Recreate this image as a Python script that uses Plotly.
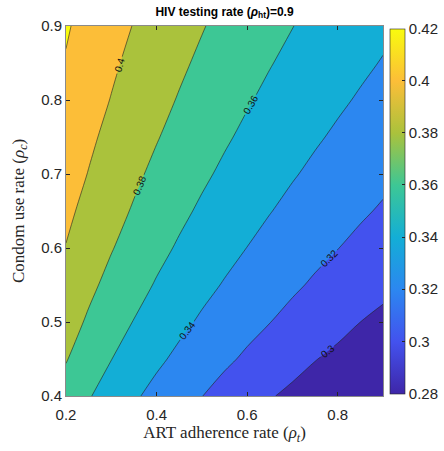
import plotly.graph_objects as go

# ART adherence rate (x) and condom use rate (y) grid
adherence = [0.20, 0.25, 0.30, 0.35, 0.40, 0.45, 0.50, 0.55, 0.60, 0.65,
             0.70, 0.75, 0.80, 0.85, 0.90]
condom = [0.40, 0.45, 0.50, 0.55, 0.60, 0.65, 0.70, 0.75, 0.80, 0.85, 0.90]
# estimated outcome values, rows = condom use rate, cols = ART adherence
rate = [
    [0.3726, 0.3614, 0.3514, 0.3425, 0.3344, 0.3270, 0.3203, 0.3134, 0.3071, 0.3012, 0.2965, 0.2923, 0.2883, 0.2845, 0.2810],
    [0.3810, 0.3699, 0.3603, 0.3514, 0.3434, 0.3361, 0.3294, 0.3232, 0.3172, 0.3113, 0.3057, 0.3005, 0.2965, 0.2927, 0.2892],
    [0.3877, 0.3776, 0.3679, 0.3594, 0.3514, 0.3442, 0.3376, 0.3314, 0.3256, 0.3203, 0.3148, 0.3096, 0.3047, 0.3000, 0.2965],
    [0.3938, 0.3840, 0.3748, 0.3663, 0.3586, 0.3514, 0.3448, 0.3388, 0.3330, 0.3277, 0.3227, 0.3177, 0.3128, 0.3082, 0.3038],
    [0.3994, 0.3895, 0.3810, 0.3726, 0.3649, 0.3580, 0.3514, 0.3454, 0.3398, 0.3344, 0.3294, 0.3247, 0.3203, 0.3157, 0.3113],
    [0.4039, 0.3946, 0.3861, 0.3784, 0.3707, 0.3638, 0.3574, 0.3514, 0.3458, 0.3406, 0.3356, 0.3309, 0.3265, 0.3223, 0.3181],
    [0.4080, 0.3994, 0.3908, 0.3833, 0.3761, 0.3692, 0.3629, 0.3570, 0.3514, 0.3462, 0.3413, 0.3367, 0.3322, 0.3280, 0.3241],
    [0.4118, 0.4033, 0.3952, 0.3877, 0.3810, 0.3742, 0.3679, 0.3621, 0.3566, 0.3514, 0.3465, 0.3419, 0.3376, 0.3334, 0.3294],
    [0.4154, 0.4069, 0.3994, 0.3918, 0.3851, 0.3789, 0.3726, 0.3668, 0.3614, 0.3563, 0.3514, 0.3468, 0.3425, 0.3384, 0.3344],
    [0.4188, 0.4102, 0.4028, 0.3957, 0.3890, 0.3829, 0.3770, 0.3712, 0.3658, 0.3608, 0.3560, 0.3514, 0.3471, 0.3430, 0.3391],
    [0.4219, 0.4134, 0.4060, 0.3994, 0.3926, 0.3865, 0.3810, 0.3753, 0.3699, 0.3649, 0.3603, 0.3557, 0.3514, 0.3473, 0.3434],
]
levels_start, levels_end, levels_step = 0.28, 0.42, 0.02
cbar_ticks = [0.28, 0.30, 0.32, 0.34, 0.36, 0.38, 0.40, 0.42]
x_ticks = [0.2, 0.4, 0.6, 0.8]
y_ticks = [0.4, 0.5, 0.6, 0.7, 0.8, 0.9]

band_colors = ["#3e26a8", "#4352ee", "#2c87f0", "#13aed6", "#3dc795",
               "#aac23c", "#fcbe38", "#f9fb0e"]
n = len(band_colors) - 1
parula = [[i / n, c] for i, c in enumerate(band_colors)]

# plotly contour fill: band above level L uses colorscale at (L + step/2);
# build a colorscale sampled at 0, 1/8, ..., 1
fill_scale = [[0.0, band_colors[0]]]
for k in range(1, 9):
    fill_scale.append([k / 8, band_colors[k - 1]])

fig = go.Figure()

fig.add_trace(go.Heatmap(
    x=adherence, y=condom, z=rate,
    colorscale=parula, zmin=0.28, zmax=0.42,
    showscale=True,
    colorbar=dict(
        x=1.022, xanchor="left", xref="paper", xpad=0, ypad=0,
        y=0.5, yanchor="middle", len=0.986, lenmode="fraction",
        thickness=15, outlinewidth=0.6, outlinecolor="#262626",
        tickvals=cbar_ticks, tickformat=".2~f",
        ticks="inside", ticklen=3, tickcolor="#262626",
        tickfont=dict(family="Liberation Sans, Arial", size=15, color="#262626"),
    ),
    hoverinfo="skip",
))

fig.add_trace(go.Contour(
    x=adherence, y=condom, z=rate,
    autocontour=False,
    contours=dict(start=levels_start, end=levels_end, size=levels_step,
                  coloring="fill", showlabels=True,
                  labelformat=".2~f",
                  labelfont=dict(family="Liberation Sans, Arial", size=10, color="#111")),
    colorscale=fill_scale,
    line=dict(color="#222", width=0.6),
    showscale=False,
))

axis_common = dict(
    showline=True, linecolor="#8a8a8a", linewidth=1, mirror="ticks",
    ticks="inside", ticklen=4, tickcolor="#262626",
    showgrid=False, zeroline=False, automargin=False,
    tickfont=dict(family="Liberation Sans, Arial", size=15, color="#262626"),
)

fig.update_layout(
    width=444, height=451,
    margin=dict(l=66, r=61, t=26, b=55, autoexpand=False),
    paper_bgcolor="white", plot_bgcolor="white",
    title=dict(text="<b>HIV testing rate (<i>ρ</i><sub>ht</sub>)=0.9</b>",
               x=(66 + 383) / 2 / 444, xanchor="center",
               y=0.984, yanchor="top",
               font=dict(family="Liberation Sans, Arial", size=12, color="black")),
    xaxis=dict(range=[0.2, 0.9], tickvals=x_ticks, tickformat=".1f",
               ticklabelstandoff=5,
               title=dict(text="ART adherence rate (<i>ρ<sub>t</sub></i>)", standoff=2,
                          font=dict(family="Liberation Serif, Times New Roman", size=17, color="#262626")),
               **axis_common),
    yaxis=dict(range=[0.4, 0.9], tickvals=y_ticks, tickformat=".1f",
               title=dict(text="Condom use rate (<i>ρ<sub>c</sub></i>)", standoff=12,
                          font=dict(family="Liberation Serif, Times New Roman", size=17, color="#262626")),
               **axis_common),
)

fig.write_html("out.html", config={"displayModeBar": False},
               post_script="document.body.style.margin='0';")
